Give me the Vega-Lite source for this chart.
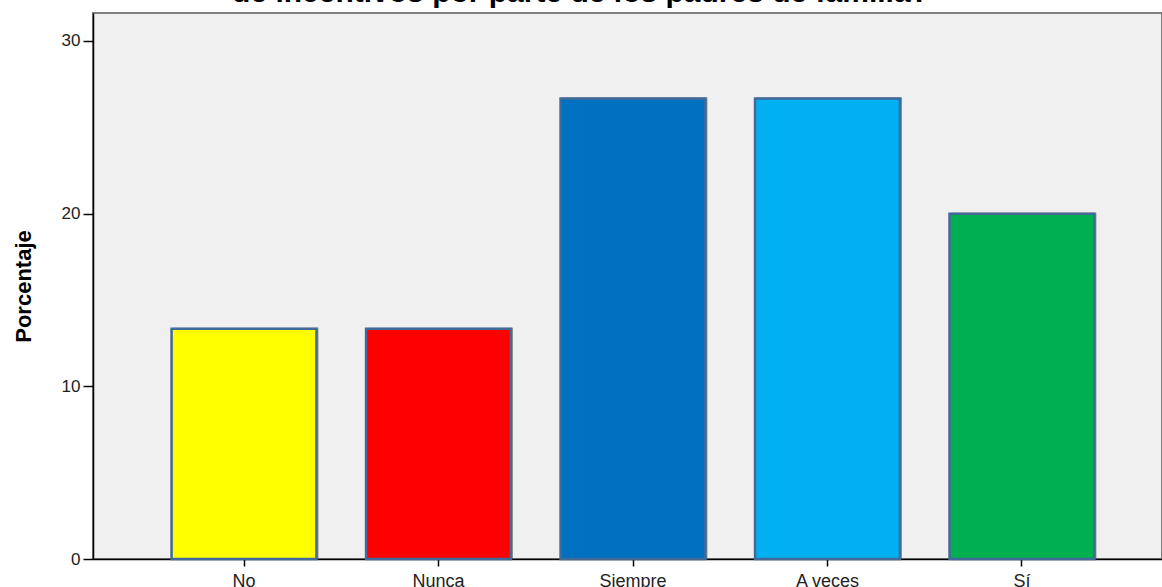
{
  "$schema": "https://vega.github.io/schema/vega-lite/v6.json",
  "width": 1069,
  "height": 546,
  "autosize": {"type": "none"},
  "padding": {"left": 93, "top": 13, "right": 0, "bottom": 28},
  "background": "white",
  "title": {
    "text": "de incentivos por parte de los padres de familia?",
    "font": "Liberation Sans",
    "fontSize": 30,
    "fontWeight": "bold",
    "color": "#000000",
    "anchor": "middle",
    "frame": "group",
    "dx": -47,
    "offset": -25,
    "baseline": "bottom"
  },
  "config": {
    "view": {"fill": "#f0f0f0", "stroke": "#808080", "strokeWidth": 2},
    "axis": {"grid": false, "domainColor": "#000000", "tickColor": "#000000", "labelColor": "#222222", "labelFont": "Liberation Sans", "titleFont": "Liberation Sans"}
  },
  "data": {
    "values": [
      {"respuesta": "No", "porcentaje": 13.33},
      {"respuesta": "Nunca", "porcentaje": 13.33},
      {"respuesta": "Siempre", "porcentaje": 26.67},
      {"respuesta": "A veces", "porcentaje": 26.67},
      {"respuesta": "Sí", "porcentaje": 20.0}
    ]
  },
  "encoding": {
    "x": {
      "field": "respuesta",
      "type": "nominal",
      "sort": ["No", "Nunca", "Siempre", "A veces", "Sí"],
      "scale": {"range": [0, 1080], "paddingInner": 0.255, "paddingOuter": 0.404},
      "axis": {"title": null, "labelAngle": 0, "tickSize": 7, "labelPadding": 6, "labelFontSize": 18, "domainWidth": 1.5, "tickWidth": 1.5}
    },
    "y": {
      "field": "porcentaje",
      "type": "quantitative",
      "scale": {"domain": [0, 31.62], "nice": false},
      "axis": {"title": "Porcentaje", "values": [0, 10, 20, 30], "tickSize": 10, "labelPadding": 3, "labelFontSize": 17, "titleFontSize": 22, "titleFontWeight": "bold", "titleColor": "#000000", "titlePadding": 26, "domainWidth": 1.5, "tickWidth": 1.5}
    }
  },
  "layer": [
    {
      "mark": {"type": "bar", "color": "#9a9478", "xOffset": 2, "yOffset": -1}
    },
    {
      "mark": {"type": "bar", "stroke": "#41699a", "strokeWidth": 2.5},
      "encoding": {
        "color": {
          "field": "respuesta",
          "type": "nominal",
          "legend": null,
          "scale": {"domain": ["No", "Nunca", "Siempre", "A veces", "Sí"], "range": ["#ffff00", "#ff0000", "#0070c0", "#00b0f0", "#00b050"]}
        }
      }
    }
  ]
}
